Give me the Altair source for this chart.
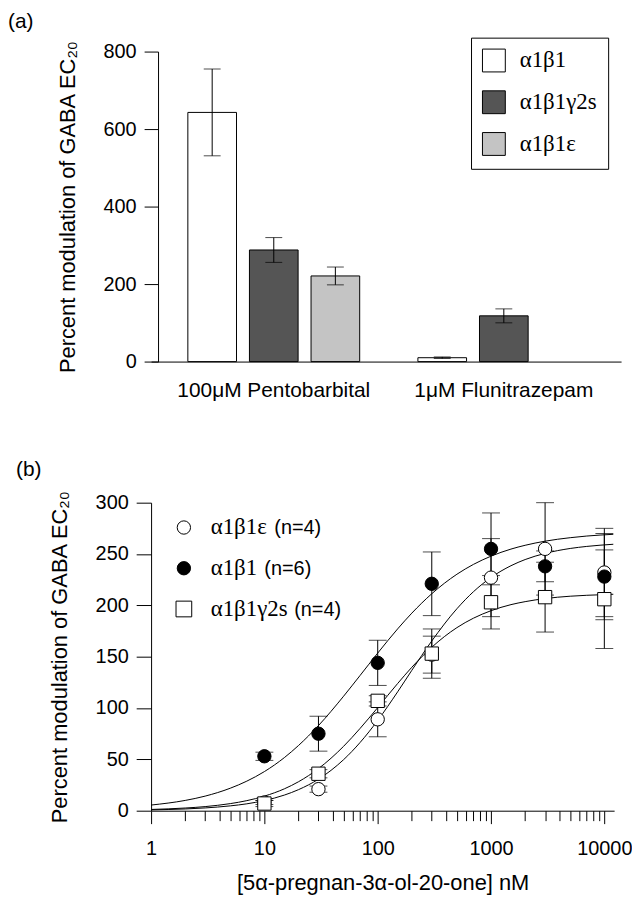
import altair as alt
import pandas as pd

# ---------------- Panel (a) data ----------------
treatments = ["100μM Pentobarbital", "1μM Flunitrazepam"]
receptors = ["α1β1", "α1β1γ2s", "α1β1ε"]
pento_mean = [643, 288, 221]
pento_sem = [112, 32, 23]
fluni_receptors = ["α1β1", "α1β1γ2s"]
fluni_mean = [10, 118]
fluni_sem = [2, 18]
bar_fills = ["#ffffff", "#555555", "#c4c4c4"]

# ---------------- Panel (b) data ----------------
conc_nM = [10, 30, 100, 300, 1000, 3000, 10000]
eps_mean = [8, 21, 89, 152, 227, 255, 232]
eps_sem = [2, 3, 17, 18, 38, 45, 43]
b1_mean = [53, 75, 144, 221, 255, 238, 228]
b1_sem = [4, 17, 22, 31, 35, 15, 42]
g2_mean = [7, 36, 107, 153, 203, 208, 206]
g2_sem = [3, 4, 5, 24, 26, 34, 48]

series_b = ["α1β1ε", "α1β1", "α1β1γ2s"]
series_n = ["(n=4)", "(n=6)", "(n=4)"]

# fitted curves
curve_x = [1, 2, 3, 5, 7, 10, 15, 20, 30, 50, 70, 100, 150, 200, 300, 500,
           700, 1000, 1500, 2000, 3000, 5000, 7000, 12000]
curve_eps = [0.8, 1.7, 2.7, 4.7, 6.7, 9.9, 15.2, 20.5, 30.7, 49.7, 66.5, 87.9,
             115.8, 136.7, 165.3, 196.7, 213.3, 227.1, 238.6, 244.6, 250.6,
             255.4, 257.4, 259.5]
curve_b1 = [5.5, 10.0, 14.2, 21.9, 28.8, 38.1, 51.7, 63.5, 82.9, 111.5, 131.8,
            153.5, 177.1, 192.4, 211.3, 230.3, 239.9, 247.9, 254.8, 258.5,
            262.5, 265.9, 267.5, 269.2]
curve_g2 = [1.2, 2.6, 4.0, 6.9, 9.8, 14.2, 21.3, 28.2, 41.0, 62.7, 80.2, 100.4,
            123.9, 139.7, 159.2, 178.3, 187.5, 194.8, 200.7, 203.6, 206.6,
            208.9, 209.8, 210.8]

SANS = "Liberation Sans"
SERIF = "Liberation Serif"

# ---------------- build tables ----------------
rows_a = []
for r, m, s in zip(receptors, pento_mean, pento_sem):
    rows_a.append({"treatment": treatments[0], "receptor": r, "mean": m,
                   "lo": m - s, "hi": m + s})
for r, m, s in zip(fluni_receptors, fluni_mean, fluni_sem):
    rows_a.append({"treatment": treatments[1], "receptor": r, "mean": m,
                   "lo": m - s, "hi": m + s})
df_a = pd.DataFrame(rows_a)

rows_b = []
for name, means, sems in [(series_b[0], eps_mean, eps_sem),
                          (series_b[1], b1_mean, b1_sem),
                          (series_b[2], g2_mean, g2_sem)]:
    for c, m, s in zip(conc_nM, means, sems):
        rows_b.append({"series": name, "conc": c, "mean": m,
                       "lo": m - s, "hi": m + s})
df_b = pd.DataFrame(rows_b)

rows_c = []
for name, ys in [(series_b[0], curve_eps), (series_b[1], curve_b1),
                 (series_b[2], curve_g2)]:
    for c, y in zip(curve_x, ys):
        rows_c.append({"series": name, "conc": c, "fit": y})
df_c = pd.DataFrame(rows_c)

df_leg = pd.DataFrame({"series": series_b, "n": series_n,
                       "row": list(range(len(series_b)))})

# ---------------- Panel (a) ----------------
x_a = alt.X("treatment:N", sort=treatments,
            scale=alt.Scale(domain=treatments, paddingInner=0.253, paddingOuter=0.148, align=0.54),
            axis=alt.Axis(title=None, ticks=False, labelAngle=0, labelPadding=18,
                          labelFontSize=21, labelLimit=0))
xo_a = alt.XOffset("receptor:N",
                   scale=alt.Scale(domain=receptors, paddingInner=0.21, paddingOuter=0))
y_a_scale = alt.Scale(domain=[0, 800], nice=False)

bars = alt.Chart(df_a).mark_bar(stroke="black", strokeWidth=1).encode(
    x=x_a,
    xOffset=xo_a,
    y=alt.Y("mean:Q", scale=y_a_scale,
            axis=alt.Axis(values=list(range(0, 801, 100)),
                          labelExpr="datum.value % 200 === 0 ? datum.label : ''",
                          tickSize={"condition": {"test": "datum.value % 200 === 0", "value": 14}, "value": 10},
                          offset=-7, labelPadding=8,
                          title="Percent modulation of GABA EC₂₀",
                          titleX=-84, titleBaseline="alphabetic")),
    fill=alt.Fill("receptor:N", scale=alt.Scale(domain=receptors, range=bar_fills),
                  legend=alt.Legend(orient="none", legendX=322, legendY=-14, title=None,
                                    symbolType="square", symbolSize=529,
                                    symbolStrokeColor="black", symbolStrokeWidth=1,
                                    labelFont=SERIF, labelFontSize=23, labelColor="black",
                                    labelOffset=14, rowPadding=14, padding=11,
                                    strokeColor="black", fillColor="white")),
)

err_a = alt.Chart(df_a).mark_rule(color="black", strokeWidth=1).encode(
    x=alt.X("treatment:N", sort=treatments), xOffset="receptor:N",
    y="lo:Q", y2="hi:Q")
cap_lo_a = alt.Chart(df_a).mark_tick(color="black", orient="horizontal", size=17, thickness=1).encode(
    x=alt.X("treatment:N", sort=treatments), xOffset="receptor:N", y="lo:Q")
cap_hi_a = alt.Chart(df_a).mark_tick(color="black", orient="horizontal", size=17, thickness=1).encode(
    x=alt.X("treatment:N", sort=treatments), xOffset="receptor:N", y="hi:Q")

lab_a = alt.Chart(pd.DataFrame({"t": ["(a)"]})).mark_text(
    align="left", baseline="top", font=SANS, fontSize=21, color="black").encode(
    x=alt.value(-144), y=alt.value(-41), text="t:N")

panel_a = alt.layer(bars, err_a, cap_lo_a, cap_hi_a, lab_a).properties(width=473, height=312)

# ---------------- Panel (b) ----------------
minor_x = [1, 2, 3, 4, 5, 6, 7, 8, 9, 10, 20, 30, 40, 50, 60, 70, 80, 90,
           100, 200, 300, 400, 500, 600, 700, 800, 900,
           1000, 2000, 3000, 4000, 5000, 6000, 7000, 8000, 9000, 10000]
decades = "[1,10,100,1000,10000]"

x_b = alt.X("conc:Q", scale=alt.Scale(type="log", domain=[1, 12200], nice=False),
            axis=alt.Axis(values=minor_x,
                          labelExpr=f"indexof({decades}, datum.value) >= 0 ? format(datum.value, 'd') : ''",
                          tickSize={"condition": {"test": f"indexof({decades}, datum.value) >= 0", "value": 13}, "value": 10},
                          labelPadding=15, labelFlush=False, labelOverlap=False,
                          title="[5α-pregnan-3α-ol-20-one] nM", titleFontSize=22,
                          titleY=79, titleBaseline="alphabetic"))
y_b_scale = alt.Scale(domain=[0, 300], nice=False)
y_b_axis = alt.Axis(values=list(range(0, 301, 25)),
                    labelExpr="datum.value % 50 === 0 ? datum.label : ''",
                    tickSize={"condition": {"test": "datum.value % 50 === 0", "value": 15}, "value": 10},
                    labelPadding=8,
                    title="Percent modulation of GABA EC₂₀",
                    titleX=-85, titleBaseline="alphabetic")

err_b = alt.Chart(df_b).mark_rule(color="black", strokeWidth=1).encode(
    x=x_b, y=alt.Y("lo:Q", scale=y_b_scale, axis=y_b_axis), y2="hi:Q")
cap_lo_b = alt.Chart(df_b).mark_tick(color="black", orient="horizontal", size=18, thickness=1).encode(
    x="conc:Q", y="lo:Q")
cap_hi_b = alt.Chart(df_b).mark_tick(color="black", orient="horizontal", size=18, thickness=1).encode(
    x="conc:Q", y="hi:Q")
curves = alt.Chart(df_c).mark_line(color="black", strokeWidth=1, interpolate="monotone").encode(
    x="conc:Q", y="fit:Q", detail="series:N")

shape_scale = alt.Scale(domain=series_b, range=["circle", "circle", "square"])
fill_scale = alt.Scale(domain=series_b, range=["white", "black", "white"])
size_scale = alt.Scale(domain=series_b, range=[180, 180, 250])

points = alt.Chart(df_b).mark_point(filled=True, stroke="black", strokeWidth=1, opacity=1).encode(
    x="conc:Q", y="mean:Q",
    shape=alt.Shape("series:N", scale=shape_scale, legend=None),
    fill=alt.Fill("series:N", scale=fill_scale, legend=None),
    size=alt.Size("series:N", scale=size_scale, legend=None),
)

legend_layers = []
row_y = [25, 66, 107]
n_x = [124, 114, 144]
for i in range(len(series_b)):
    d = df_leg[df_leg["row"] == i]
    legend_layers.append(alt.Chart(d).mark_point(
        filled=True, stroke="black", strokeWidth=1, opacity=1,
        shape=["circle", "circle", "square"][i], size=[180, 180, 250][i],
        fill=["white", "black", "white"][i]).encode(
        x=alt.value(33), y=alt.value(row_y[i])))
    legend_layers.append(alt.Chart(d).mark_text(
        align="left", baseline="alphabetic", font=SERIF, fontSize=23, color="black").encode(
        x=alt.value(60), y=alt.value(row_y[i] + 7), text="series:N"))
    legend_layers.append(alt.Chart(d).mark_text(
        align="left", baseline="alphabetic", font=SANS, fontSize=20, color="black").encode(
        x=alt.value(n_x[i]), y=alt.value(row_y[i] + 7), text="n:N"))

lab_b = alt.Chart(pd.DataFrame({"t": ["(b)"]})).mark_text(
    align="left", baseline="top", font=SANS, fontSize=21, color="black").encode(
    x=alt.value(-136), y=alt.value(-44), text="t:N")

panel_b = alt.layer(err_b, cap_lo_b, cap_hi_b, curves, points, *legend_layers, lab_b).resolve_scale(
    fill="independent", shape="independent", size="independent").properties(width=466, height=310)

chart = alt.vconcat(panel_a, panel_b, spacing=59).properties(
    padding=0, background="white"
).configure_view(stroke=None).configure_axis(
    domainColor="black", tickColor="black", labelColor="black", titleColor="black",
    labelFont=SANS, titleFont=SANS, labelFontSize=20, titleFontSize=22,
    titleFontWeight="normal", domainWidth=1, tickWidth=1, grid=False
)

chart.save("out.html", embed_options={"renderer": "svg", "actions": False})
